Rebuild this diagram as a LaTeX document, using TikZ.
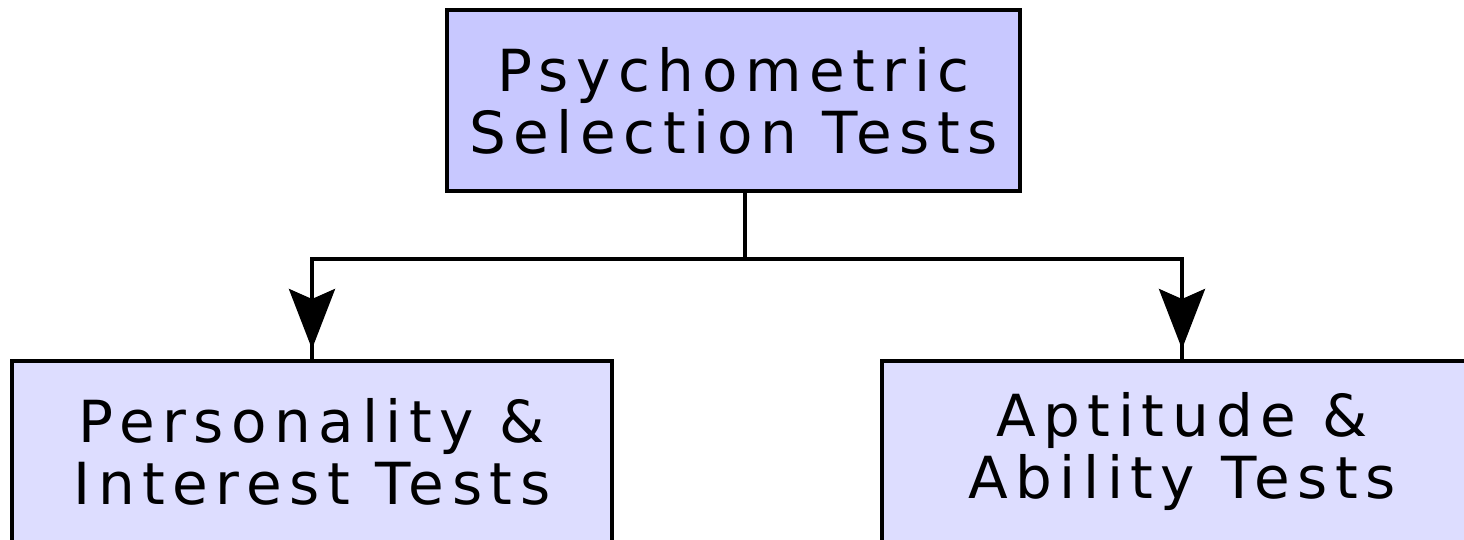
\documentclass[tikz,border=0pt]{standalone}
\usepackage{fontspec}
\setmainfont{DejaVu Sans}[LetterSpace=13]
\usepackage{xcolor}
\usetikzlibrary{arrows.meta,positioning}
\definecolor{topblue}{HTML}{C8C8FF}
\definecolor{subblue}{HTML}{DDDDFF}

\begin{document}
\begin{tikzpicture}[x=0.5pt,y=-0.5pt,
  testbox/.style={draw=black,line width=2pt,align=center,inner sep=0pt,
    minimum height=90.5pt,font=\fontsize{29}{31}\selectfont},
  link/.style={line width=2pt},
  arrowlink/.style={link,-{Stealth[length=30pt,width=23pt,inset=5pt]},shorten >=5pt}]
  \useasboundingbox (0,0) rectangle (1464,540);
  \clip (0,0) rectangle (1464,540);
  % boxes
  \node[testbox,fill=topblue,minimum width=286.5pt] (top) at (733.5,100.5) {Psychometric\\Selection Tests};
  \node[testbox,fill=subblue,minimum width=300pt] (pers) at (312,451.5) {Personality \&\\Interest Tests};
  \node[testbox,fill=subblue,minimum width=300pt] (apti) at (1182,451.5) {Aptitude \&\\Ability Tests};
  % connectors
  \coordinate (fork) at (745,259);
  \draw[link] (top.south -| fork) -- (fork);
  \draw[link] (fork) -| (pers.north);
  \draw[link] (fork) -| (apti.north);
  \draw[arrowlink] (fork) -| (pers.north);
  \draw[arrowlink] (fork) -| (apti.north);
\end{tikzpicture}
\end{document}
